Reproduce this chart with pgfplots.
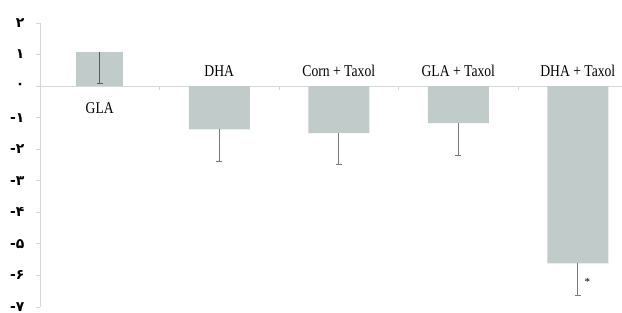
\documentclass[border=0pt]{standalone}
\usepackage{pgfplots}
\pgfplotsset{compat=1.18}
\usepackage{fontspec}
\setmainfont{Liberation Serif}
\newfontfamily\condfont[FakeStretch=0.83]{Liberation Serif}
\newfontfamily\persian{DejaVu Sans Bold}
\definecolor{barc}{HTML}{C0CBCA}
\definecolor{axc}{HTML}{D4D8D8}
\definecolor{errc}{HTML}{5A5A5A}
\definecolor{errd}{HTML}{7A7A7A}
\begin{document}
\begin{tikzpicture}
\begin{axis}[
 at={(0,0)}, anchor=south west,
 scale only axis, width=582bp, height=284bp,
 xmin=-0.5, xmax=4.37, ymin=-7, ymax=2,
 axis x line=middle, axis y line=left,
 axis line style={draw=axc, line width=0.8pt, -},
 xtick={0.5,1.5,2.5,3.5}, xticklabels={},
 ytick={-7,-6,-5,-4,-3,-2,-1,0,1,2},
 yticklabels={-۷,-۶,-۵,-۴,-۳,-۲,-۱,۰,۱,۲},
 tick style={draw=axc, line width=0.8pt},
 major tick length=4bp,
 tick align=outside,
 yticklabel style={font=\persian\fontsize{14}{14}\selectfont, xshift=-8bp},
 clip=false,
]
\addplot[ybar, bar width=47bp, fill=barc, draw=none,
  error bars/.cd, y dir=minus, y explicit,
  error bar style={errc, line width=0.9pt},
  error mark options={rotate=90, errc, mark size=3bp, line width=0.9pt}]
  coordinates {(0,1.08) +- (0,0.98)};
\addplot[ybar, bar width=61bp, fill=barc, draw=none,
  error bars/.cd, y dir=minus, y explicit,
  error bar style={errd, line width=0.9pt},
  error mark options={rotate=90, errd, mark size=3bp, line width=0.9pt}]
  coordinates {(1,-1.37) +- (0,1.01) (2,-1.49) +- (0,0.99) (3,-1.17) +- (0,1.02) (4,-5.62) +- (0,1.01)};
\node[font=\condfont\fontsize{16.5}{16.5}\selectfont, anchor=base] at (axis cs:0,-0.86) {GLA};
\node[font=\condfont\fontsize{16.5}{16.5}\selectfont, anchor=base] at (axis cs:1,0.32) {DHA};
\node[font=\condfont\fontsize{16.5}{16.5}\selectfont, anchor=base] at (axis cs:2,0.32) {Corn + Taxol};
\node[font=\condfont\fontsize{16.5}{16.5}\selectfont, anchor=base] at (axis cs:3,0.32) {GLA + Taxol};
\node[font=\condfont\fontsize{16.5}{16.5}\selectfont, anchor=base] at (axis cs:4,0.32) {DHA + Taxol};
\node[font=\fontsize{11}{11}\selectfont] at (axis cs:4.08,-6.22) {*};
\end{axis}
\pgfresetboundingbox
\path[use as bounding box] (-40bp,-6bp) rectangle (582bp,307bp);
\end{tikzpicture}
\end{document}
